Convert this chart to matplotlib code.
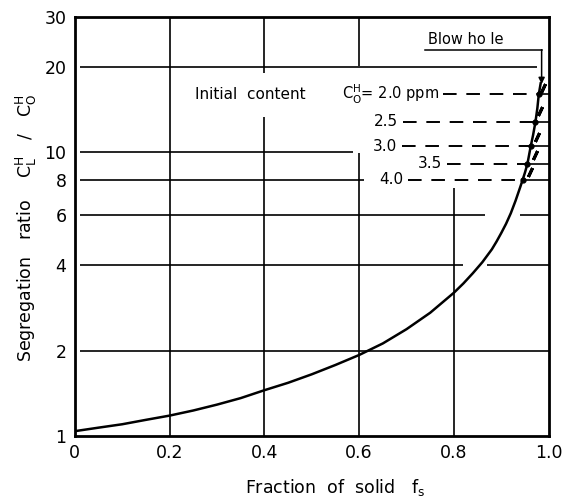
import matplotlib

matplotlib.use("Agg")
import matplotlib.pyplot as plt
import numpy as np

# segregation curve (fraction solid, C_L/C_0)
FS = [0.0, 0.05, 0.1, 0.15, 0.2, 0.25, 0.3, 0.35, 0.4, 0.45, 0.5, 0.55, 0.6,
      0.65, 0.7, 0.75, 0.8, 0.82, 0.84, 0.86, 0.88, 0.89, 0.90, 0.91, 0.92,
      0.93, 0.94, 0.945, 0.95, 0.955, 0.962, 0.967, 0.972, 0.976, 0.979, 0.983]
RATIO = [1.04, 1.07, 1.10, 1.14, 1.18, 1.23, 1.29, 1.36, 1.45, 1.54, 1.65,
         1.78, 1.93, 2.12, 2.38, 2.72, 3.20, 3.45, 3.75, 4.1, 4.55, 4.85, 5.2,
         5.6, 6.1, 6.75, 7.55, 8.0, 8.5, 9.1, 10.5, 11.5, 12.8, 14.3, 16.0,
         17.5]

# initial hydrogen contents and where each one meets the curve
CONTENT_LABELS = ["2.0 ppm", "2.5", "3.0", "3.5", "4.0"]
LEVEL_RATIO = [16.0, 12.8, 10.5, 9.1, 8.0]
LEVEL_FS = [0.979, 0.972, 0.962, 0.955, 0.945]
DASH_START = [0.776, 0.692, 0.690, 0.785, 0.703]

# blow-hole hatch strokes next to the curve
HATCH_FS = [0.987, 0.981, 0.975, 0.970, 0.961]
HATCH_RATIO = [16.9, 14.0, 11.3, 9.8, 8.5]

X_TICKS = [0, 0.2, 0.4, 0.6, 0.8, 1.0]
X_TICK_LABELS = ["0", "0.2", "0.4", "0.6", "0.8", "1.0"]
Y_TICKS = [1, 2, 4, 6, 8, 10, 20, 30]

plt.rcParams["font.family"] = ["DejaVu Sans"]
plt.rcParams["mathtext.fontset"] = "dejavusans"

fig = plt.figure(figsize=(5.71, 4.98), dpi=100)
ax = fig.add_axes([0.131, 0.1245, 0.83, 0.8415])
ax.set_yscale("log")
ax.set_xlim(0, 1.0)
ax.set_ylim(1, 30)

grid_kw = dict(color="black", lw=1.2, zorder=1)
# horizontal grid (broken where the annotations sit)
ax.hlines(2, 0.012, 1.0, **grid_kw)
ax.hlines(4, 0.012, 0.82, **grid_kw)
ax.hlines(4, 0.87, 1.0, **grid_kw)
ax.hlines(6, 0.012, 0.865, **grid_kw)
ax.hlines(6, 0.94, 1.0, **grid_kw)
ax.hlines(8, 0.012, 0.61, **grid_kw)
ax.hlines(10, 0.012, 0.587, **grid_kw)
ax.hlines(20, 0.012, 0.975, **grid_kw)
# vertical grid
ax.vlines(0.2, 1, 30, **grid_kw)
ax.vlines(0.4, 1, 13.3, **grid_kw)
ax.vlines(0.4, 19.0, 30, **grid_kw)
ax.vlines(0.6, 1, 9.95, **grid_kw)
ax.vlines(0.6, 20.2, 30, **grid_kw)
ax.vlines(0.8, 1, 7.47, **grid_kw)

ax.plot(FS, RATIO, color="black", lw=1.8, zorder=3)

for lab, r, fs, x0 in zip(CONTENT_LABELS, LEVEL_RATIO, LEVEL_FS, DASH_START):
    ax.plot([x0, fs], [r, r], color="black", lw=1.4, dashes=(7, 5), zorder=2)
    ax.plot([fs, 1.0], [r, r], color="black", lw=1.2, zorder=2)
    if lab == "2.0 ppm":
        ax.text(x0 - 0.008, r, r"$\mathrm{C}_\mathrm{O}^\mathrm{H}$= 2.0 ppm",
                ha="right", va="center", fontsize=10.5)
    else:
        ax.text(x0 - 0.01, r, lab, ha="right", va="center", fontsize=11)
ax.plot(LEVEL_FS, LEVEL_RATIO, "o", color="black", ms=3.5, zorder=4)
ax.plot(HATCH_FS, HATCH_RATIO, linestyle="none", marker=(2, 2, -25),
        color="black", ms=7, mew=2.2, zorder=4)

ax.text(0.253, 16.0, "Initial  content", ha="left", va="center", fontsize=11)

# blow hole pointer
ax.plot([0.738, 0.985], [22.9, 22.9], color="black", lw=1.1)
ax.annotate("", xy=(0.985, 17.4), xytext=(0.985, 23.0),
            arrowprops=dict(arrowstyle="-|>", color="black", lw=1.1,
                            mutation_scale=9, shrinkA=0, shrinkB=0))
ax.text(0.745, 23.5, "Blow ho le", ha="left", va="bottom", fontsize=10.5)

ax.set_xticks(X_TICKS)
ax.set_xticklabels(X_TICK_LABELS)
ax.set_yticks(Y_TICKS)
ax.set_yticklabels([str(v) for v in Y_TICKS])
ax.yaxis.set_minor_locator(matplotlib.ticker.NullLocator())
ax.tick_params(axis="both", length=0, labelsize=12.5, pad=6)

for sp in ax.spines.values():
    sp.set_linewidth(2.0)

ax.set_xlabel(r"Fraction  of  solid   $\mathrm{f}_\mathrm{s}$", fontsize=12.5,
              va="center")
ax.xaxis.set_label_coords(0.549, -0.124)
ax.set_ylabel(r"Segregation   ratio    $\mathrm{C}_\mathrm{L}^\mathrm{H}$   /   $\mathrm{C}_\mathrm{O}^\mathrm{H}$",
              fontsize=12.5, va="center")
ax.yaxis.set_label_coords(-0.101, 0.496)

fig.savefig("out.png", dpi=100)
